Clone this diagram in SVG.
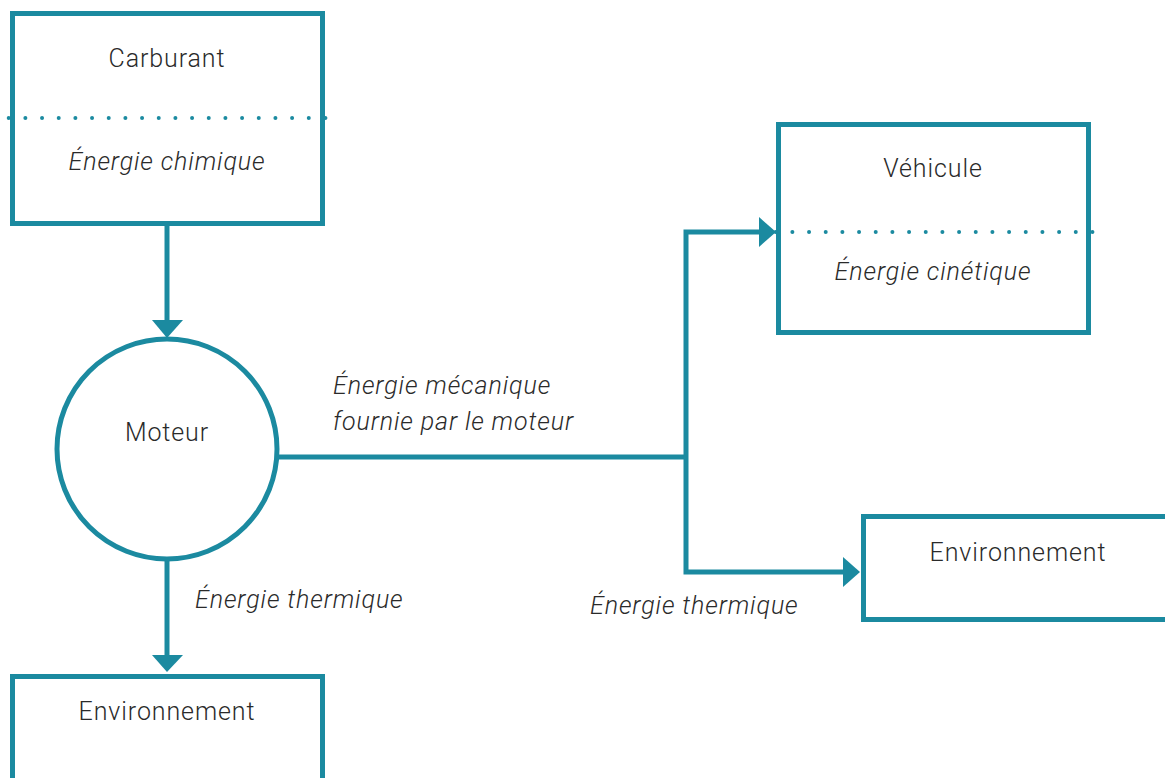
<svg xmlns="http://www.w3.org/2000/svg" width="1165" height="778" viewBox="0 0 1165 778">
<defs>
<style>
.box{fill:#fff;stroke:#1b8aa0;stroke-width:5}
.dot{fill:none;stroke:#1b8aa0;stroke-width:4;stroke-linecap:round;stroke-dasharray:0 16.67}
.ln{fill:none;stroke:#1b8aa0;stroke-width:5}
.t{font-family:Roboto,"Liberation Sans",sans-serif;font-size:25px;font-weight:300;fill:#2a2a2a;letter-spacing:0.9px}
.i{font-style:italic}
.ah{fill:#1b8aa0}
</style>
</defs>
<g id="connectors">
<line class="ln" x1="167" y1="225" x2="167" y2="322"/>
<polygon class="ah" points="152,320 183,320 167,338"/>
<line class="ln" x1="167" y1="560" x2="167" y2="657"/>
<polygon class="ah" points="152,655 183,655 167,672"/>
<polyline class="ln" points="278,457 686,457"/>
<polyline class="ln" points="761,232 686,232 686,572 845,572"/>
<polygon class="ah" points="759,217 759,247 776,232"/>
<polygon class="ah" points="843,557 843,587 860,572"/>
</g>
<g id="carburant">
<rect class="box" x="12.5" y="13.5" width="310" height="210"/>
<line class="dot" x1="8.7" y1="118" x2="328" y2="118"/>
<text class="t" x="167" y="67" text-anchor="middle">Carburant</text>
<text class="t i" x="167" y="170" text-anchor="middle">Énergie chimique</text>
</g>
<g id="moteur">
<circle class="box" cx="167" cy="449" r="110"/>
<text class="t" x="167" y="441" text-anchor="middle">Moteur</text>
</g>
<g id="vehicule">
<rect class="box" x="778.5" y="124.5" width="310" height="208"/>
<line class="dot" x1="775.7" y1="232" x2="1094" y2="232"/>
<text class="t" x="933" y="177" text-anchor="middle">Véhicule</text>
<text class="t i" x="933" y="280" text-anchor="middle">Énergie cinétique</text>
</g>
<g id="env-right">
<rect class="box" x="863.5" y="516.5" width="320" height="103"/>
<text class="t" x="1018" y="561" text-anchor="middle">Environnement</text>
</g>
<g id="env-bottom">
<rect class="box" x="12.5" y="676.5" width="310" height="130"/>
<text class="t" x="167" y="720" text-anchor="middle">Environnement</text>
</g>
<g id="labels">
<text class="t i" x="333" y="394">Énergie mécanique</text>
<text class="t i" x="333" y="430">fournie par le moteur</text>
<text class="t i" x="195" y="608">Énergie thermique</text>
<text class="t i" x="590" y="614">Énergie thermique</text>
</g>
</svg>
